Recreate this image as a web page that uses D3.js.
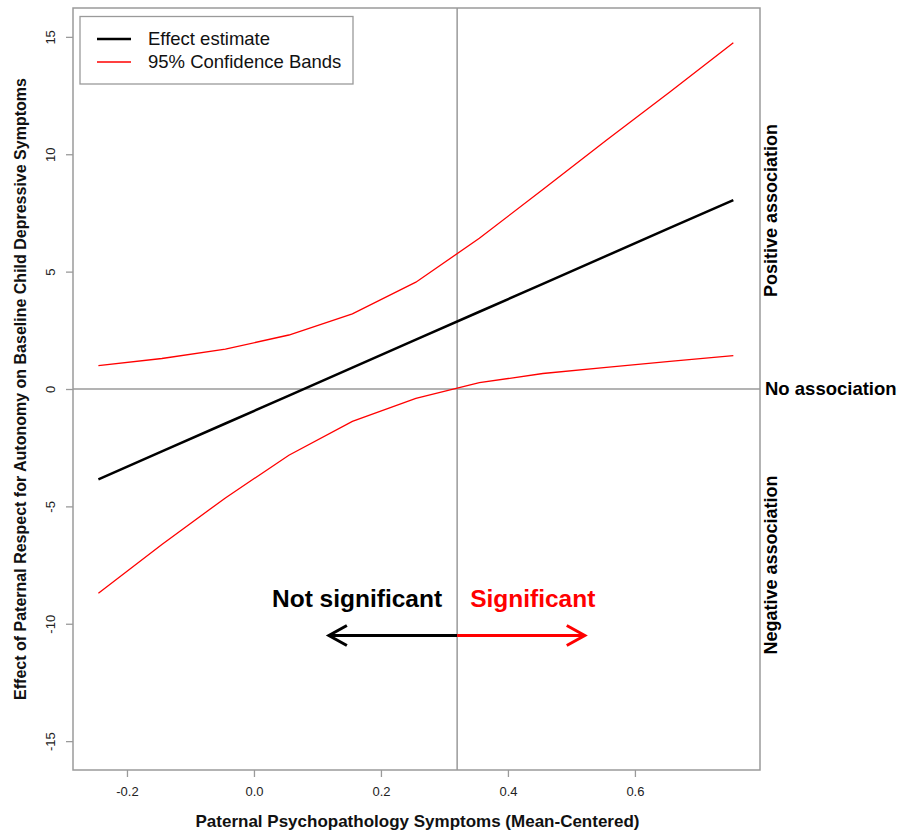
<!DOCTYPE html>
<html>
<head>
<meta charset="utf-8">
<script src="https://cdn.jsdelivr.net/npm/d3@7"></script>
<style>
  html, body { margin: 0; padding: 0; background: #fff; }
  svg { display: block; font-family: "Liberation Sans", Arial, sans-serif; }
</style>
</head>
<body>
<div id="chart"></div>
<script>
// values
const xVals = [-0.245, -0.145, -0.045, 0.055, 0.155, 0.255, 0.355, 0.455, 0.555, 0.655, 0.755];
const estimate = [-3.85, -2.66, -1.47, -0.28, 0.91, 2.10, 3.29, 4.48, 5.67, 6.86, 8.05];
const upperBand = [1.00, 1.30, 1.70, 2.30, 3.20, 4.55, 6.42, 8.50, 10.60, 12.65, 14.75];
const lowerBand = [-8.70, -6.62, -4.64, -2.82, -1.38, -0.40, 0.27, 0.66, 0.92, 1.18, 1.42];

const xTicks = [-0.2, 0.0, 0.2, 0.4, 0.6];
const yTicks = [-15, -10, -5, 0, 5, 10, 15];

const jnPoint = 0.32;          // Johnson-Neyman boundary
const arrowY = -10.5;
const arrowLeft = 0.118;
const arrowRight = 0.521;
const sigLabelY = -9.3;

const legendItems = [
  { label: 'Effect estimate', color: '#000', width: 2.5 },
  { label: '95% Confidence Bands', color: '#ff0000', width: 1.3 }
];

const sideLabels = [
  { text: 'Positive association', y: 7.6 },
  { text: 'Negative association', y: -7.5 }
];

const W = 900, H = 832;
const frame = { left: 73, right: 760, top: 8, bottom: 770 };
const gray = '#9a9a9a';

const svg = d3.select('#chart').append('svg')
  .attr('width', W)
  .attr('height', H);

const x = d3.scaleLinear().domain([-0.285, 0.797]).range([frame.left, frame.right]);
const y = d3.scaleLinear().domain([-16.23, 16.23]).range([frame.bottom, frame.top]);

// reference lines
svg.append('line')
  .attr('x1', frame.left).attr('x2', frame.right)
  .attr('y1', y(0)).attr('y2', y(0))
  .attr('stroke', gray).attr('stroke-width', 1.5);

svg.append('line')
  .attr('x1', x(jnPoint)).attr('x2', x(jnPoint))
  .attr('y1', frame.top).attr('y2', frame.bottom)
  .attr('stroke', gray).attr('stroke-width', 1.5);

// axes
const xAxis = svg.append('g')
  .attr('transform', `translate(0,${frame.bottom})`)
  .call(d3.axisBottom(x).tickValues(xTicks).tickFormat(d3.format('.1f')).tickSize(7).tickPadding(10));

const yAxis = svg.append('g')
  .attr('transform', `translate(${frame.left},0)`)
  .call(d3.axisLeft(y).tickValues(yTicks).tickSize(7));

[xAxis, yAxis].forEach(ax => {
  ax.select('.domain').remove();
  ax.selectAll('.tick line').attr('stroke', gray).attr('stroke-width', 1.3);
});

xAxis.selectAll('.tick text')
  .attr('font-size', 13)
  .attr('fill', '#222')
  .attr('font-family', '"Liberation Sans", Arial, sans-serif')
  .text(d => d3.format('.1f')(d).replace('−', '-'));

yAxis.selectAll('.tick text')
  .attr('font-size', 13)
  .attr('fill', '#222')
  .attr('font-family', '"Liberation Sans", Arial, sans-serif')
  .attr('x', null).attr('dy', null)
  .attr('text-anchor', 'middle')
  .attr('transform', 'translate(-18,0) rotate(-90)')
  .text(d => String(d));

// frame
svg.append('rect')
  .attr('x', frame.left).attr('y', frame.top)
  .attr('width', frame.right - frame.left)
  .attr('height', frame.bottom - frame.top)
  .attr('fill', 'none')
  .attr('stroke', gray).attr('stroke-width', 1.5);

// series
const pts = arr => arr.map((v, i) => [xVals[i], v]);
const line = d3.line().x(d => x(d[0])).y(d => y(d[1]));

svg.append('path').datum(pts(upperBand))
  .attr('d', line).attr('fill', 'none')
  .attr('stroke', '#ff0000').attr('stroke-width', 1.3);

svg.append('path').datum(pts(lowerBand))
  .attr('d', line).attr('fill', 'none')
  .attr('stroke', '#ff0000').attr('stroke-width', 1.3);

svg.append('path').datum(pts(estimate))
  .attr('d', line).attr('fill', 'none')
  .attr('stroke', '#000').attr('stroke-width', 2.5);

// significance arrows
function arrow(x0, x1, color) {
  const ay = y(arrowY);
  const tip = x(x1);
  const dir = x1 > x0 ? -1 : 1;
  svg.append('line')
    .attr('x1', x(x0)).attr('x2', tip)
    .attr('y1', ay).attr('y2', ay)
    .attr('stroke', color).attr('stroke-width', 3);
  svg.append('path')
    .attr('d', `M${tip + dir * 18},${ay - 10} L${tip},${ay} L${tip + dir * 18},${ay + 10}`)
    .attr('fill', 'none')
    .attr('stroke', color).attr('stroke-width', 3)
    .attr('stroke-linejoin', 'miter');
}
arrow(jnPoint, arrowLeft, '#000');
arrow(jnPoint, arrowRight, '#ff0000');

svg.append('text')
  .attr('x', x(jnPoint) - 15).attr('y', y(sigLabelY))
  .attr('text-anchor', 'end')
  .attr('font-size', 24.5).attr('font-weight', 'bold')
  .attr('fill', '#000')
  .text('Not significant');

svg.append('text')
  .attr('x', x(jnPoint) + 13).attr('y', y(sigLabelY))
  .attr('text-anchor', 'start')
  .attr('font-size', 24.5).attr('font-weight', 'bold')
  .attr('fill', '#ff0000')
  .text('Significant');

// legend
const lg = svg.append('g');
lg.append('rect')
  .attr('x', 80).attr('y', 16.5).attr('width', 273).attr('height', 67.5)
  .attr('fill', '#fff').attr('stroke', gray).attr('stroke-width', 1.3);

legendItems.forEach((d, i) => {
  const ly = 39 + i * 23;
  lg.append('line')
    .attr('x1', 97).attr('x2', 131)
    .attr('y1', ly).attr('y2', ly)
    .attr('stroke', d.color).attr('stroke-width', d.width);
  lg.append('text')
    .attr('x', 148).attr('y', ly).attr('dy', '0.35em')
    .attr('font-size', 18.5).attr('fill', '#111')
    .text(d.label);
});

// axis titles
svg.append('text')
  .attr('x', (frame.left + frame.right) / 2 + 1).attr('y', 827)
  .attr('text-anchor', 'middle')
  .attr('font-size', 17).attr('font-weight', 'bold').attr('fill', '#111')
  .text('Paternal Psychopathology Symptoms (Mean-Centered)');

svg.append('text')
  .attr('transform', `translate(25.5,${y(0)}) rotate(-90)`)
  .attr('text-anchor', 'middle')
  .attr('font-size', 16).attr('font-weight', 'bold').attr('fill', '#111')
  .text('Effect of Paternal Respect for Autonomy on Baseline Child Depressive Symptoms');

// right-side annotations
sideLabels.forEach(d => {
  svg.append('text')
    .attr('transform', `translate(777,${y(d.y)}) rotate(-90)`)
    .attr('text-anchor', 'middle')
    .attr('font-size', 18).attr('font-weight', 'bold').attr('fill', '#000')
    .text(d.text);
});

svg.append('text')
  .attr('x', 765).attr('y', y(0)).attr('dy', '0.35em')
  .attr('font-size', 18.5).attr('font-weight', 'bold').attr('fill', '#000')
  .text('No association');
</script>
</body>
</html>
